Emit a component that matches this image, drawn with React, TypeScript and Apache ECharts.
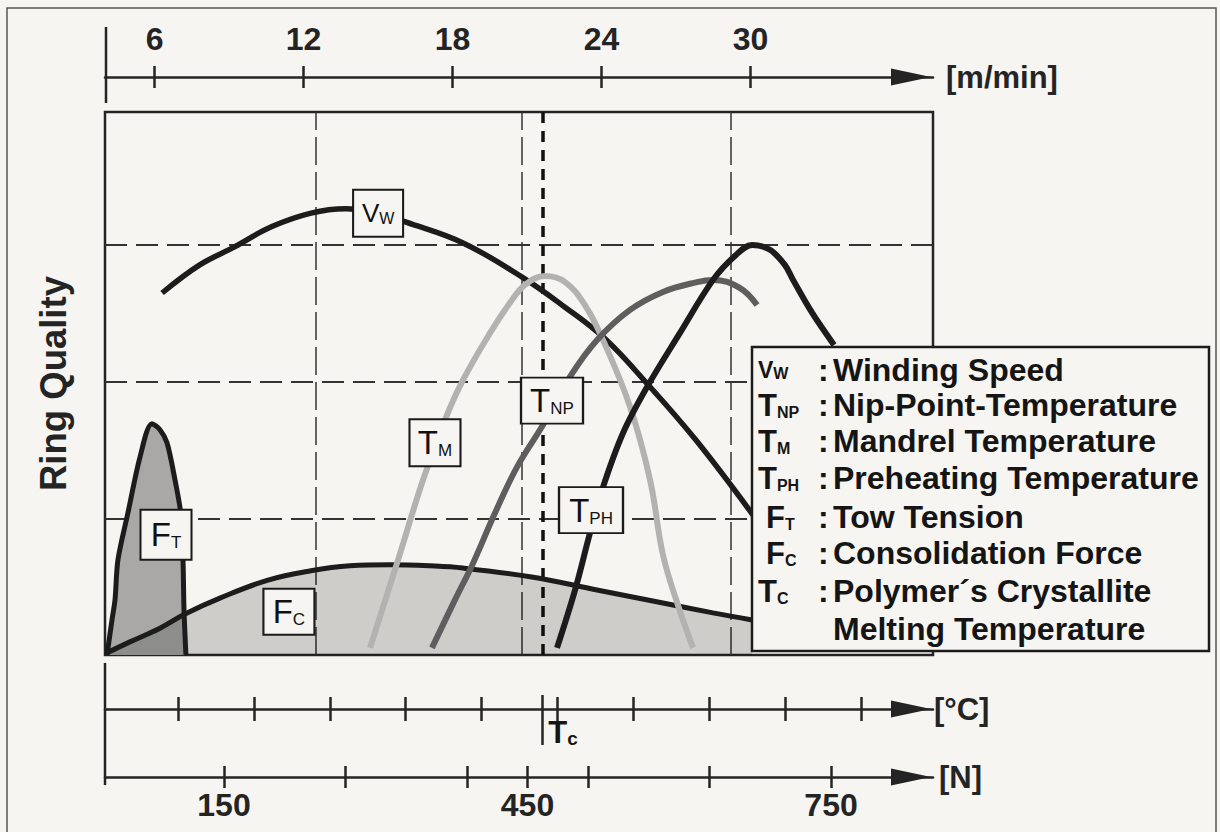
import React, { useEffect, useRef } from 'react';
import * as echarts from 'echarts';

// ---------- data ----------
const SPEED_TICKS = [6, 12, 18, 24, 30];
const TEMP_TICKS = [100, 150, 200, 250, 300, 350, 400, 450, 500, 550];
const FORCE_TICKS = [150, 270, 390, 450, 510, 630, 750];
const FORCE_LABELS = [150, 450, 750];
const TC = 340;
const QUALITY_LEVELS = [25, 50, 75];
const SPEED_GUIDES = [12.5, 20.8, 29.2];

const vwSpeed = [6.3, 7.8, 9.2, 10.7, 12.3, 13.7, 14.9, 16.1, 18.4, 20.8, 22.5, 24.1, 25.8, 27.8, 30.1];
const vwQuality = [66.2, 71.3, 74.6, 78.3, 80.8, 81.6, 81.0, 79.2, 75.4, 69.1, 63.7, 58.0, 49.8, 39.3, 25.6];

const tmTemp = [226.5, 244.3, 261.4, 275.9, 287.8, 305.6, 318.7, 328.6, 341.8, 355.0, 368.1, 380.0, 397.8, 411.0, 419.5, 429.4, 439.3];
const tmQuality = [1.3, 16.8, 32.0, 43.0, 50.3, 58.9, 64.4, 67.7, 69.3, 68.2, 64.0, 57.6, 45.4, 32.0, 18.3, 9.1, 1.3];

const tnpTemp = [267.3, 282.5, 294.4, 308.9, 323.4, 340.5, 358.3, 376.1, 397.8, 419.5, 441.9, 452.5, 470.3, 481.5];
const tnpQuality = [1.3, 10.1, 16.8, 26.0, 34.4, 42.1, 50.9, 57.6, 63.1, 66.4, 68.2, 68.6, 67.1, 64.0];

const tphTemp = [349.7, 361.6, 371.4, 380.0, 393.2, 409.0, 430.7, 452.5, 467.0, 478.2, 490.0, 499.9, 505.2, 517.7, 532.2];
const tphQuality = [1.3, 11.9, 22.3, 30.7, 40.6, 49.0, 58.9, 68.6, 73.0, 75.0, 74.1, 71.3, 68.6, 62.6, 56.7];

const ftForce = [34.4, 39.3, 42.3, 45.2, 55.1, 67.0, 78.8, 86.7, 93.7, 101.6, 107.5, 109.5, 110.5, 112.4];
const ftQuality = [0, 6.4, 10.1, 17.4, 26.0, 36.2, 42.3, 41.2, 38.8, 32.0, 25.6, 17.4, 8.2, 0];

const fcForce = [34.4, 57.1, 86.7, 111.5, 146.0, 193.5, 236.0, 274.5, 314.1, 353.6, 386.2, 452.5, 518.7, 583.9, 633.3, 672.0];
const fcQuality = [0.4, 2.4, 4.9, 7.5, 10.4, 13.7, 15.4, 16.3, 16.5, 16.3, 15.9, 14.3, 11.9, 9.5, 7.7, 6.4];

const LEGEND_MAIN = ['V', 'T', 'T', 'T', 'F', 'F', 'T', ''];
const LEGEND_SUB = ['W', 'NP', 'M', 'PH', 'T', 'C', 'C', ''];
const LEGEND_TEXT = [
  'Winding Speed',
  'Nip-Point-Temperature',
  'Mandrel Temperature',
  'Preheating Temperature',
  'Tow Tension',
  'Consolidation Force',
  'Polymer´s Crystallite',
  'Melting Temperature',
];

// ---------- style ----------
const FONT = 'Liberation Sans, Arial, Helvetica, sans-serif';
const INK = '#242424';
const BG = '#f7f5f1';

const zip = (a: number[], b: number[]) => a.map((v, i) => [v, b[i]]);

const baseAxis = (o: any) => ({
  type: 'value',
  gridIndex: 0,
  splitLine: { show: false },
  axisLine: { show: false, onZero: false },
  axisTick: { show: false },
  axisLabel: { show: false },
  ...o,
});

const SPEED_RANGE = { min: 4, max: 37.35 };
const TEMP_RANGE = { min: 51.9, max: 597.4 };
const FORCE_RANGE = { min: 32.4, max: 850.8 };

const arrowLine = {
  show: true,
  onZero: false,
  lineStyle: { color: INK, width: 2.5 },
  symbol: ['none', 'triangle'],
  symbolSize: [17, 40],
  symbolOffset: [0, -22],
};

const tickStyle = { color: INK, width: 2.5 };
const nameStyle = (pb: number) => ({
  fontSize: 31,
  fontWeight: 'bold',
  color: INK,
  fontFamily: FONT,
  padding: [0, 0, pb, 0],
});

const labelRich = (mainSize: number, subSize: number) => ({
  m: { fontSize: mainSize, fontFamily: FONT, color: '#111', verticalAlign: 'bottom', lineHeight: mainSize },
  s: {
    fontSize: subSize,
    fontFamily: FONT,
    color: '#111',
    verticalAlign: 'bottom',
    lineHeight: 2 * (0.3465 * subSize + 0.1535 * mainSize),
  },
});

const boxPoint = (coord: number[], size: number[], text: string, mainSize = 33, subSize = 17) => ({
  z: 8,
  symbol: 'rect',
  symbolSize: size,
  itemStyle: { color: BG, borderColor: '#1a1a1a', borderWidth: 2 },
  label: {
    show: true,
    position: 'inside',
    formatter: () => text,
    rich: labelRich(mainSize, subSize),
  },
  data: [{ coord }],
});

const LEG_Y = [370, 405, 441, 478, 517, 553, 591, 629];

const legendRich = (main: string) => {
  const ms = main === 'V' ? 23 : 31;
  const ss = 16;
  return {
    m: { fontSize: ms, fontWeight: 'bold', fontFamily: FONT, fill: '#151515', verticalAlign: 'bottom', lineHeight: ms },
    s: {
      fontSize: ss,
      fontWeight: 'bold',
      fontFamily: FONT,
      fill: '#151515',
      verticalAlign: 'bottom',
      lineHeight: 2 * (0.3465 * ss + 0.1535 * ms),
    },
  };
};

const legendGraphic = () => {
  const els: any[] = [
    {
      type: 'rect',
      shape: { x: 752, y: 347, width: 457, height: 304 },
      style: { fill: BG, stroke: '#1c1c1c', lineWidth: 2.5 },
      z: 20,
      silent: true,
    },
  ];
  LEGEND_TEXT.forEach((t, i) => {
    const y = LEG_Y[i];
    if (LEGEND_MAIN[i]) {
      const fx = LEGEND_MAIN[i] === 'F' ? 766 : 758;
      els.push({
        type: 'text',
        x: fx,
        y,
        z: 21,
        silent: true,
        style: {
          text: `{m|${LEGEND_MAIN[i]}}{s|${LEGEND_SUB[i]}}`,
          rich: legendRich(LEGEND_MAIN[i]),
          align: 'left',
          verticalAlign: 'middle',
        },
      });
      els.push({
        type: 'text',
        x: 818,
        y,
        z: 21,
        silent: true,
        style: {
          text: ':',
          fontSize: 32,
          fontWeight: 'bold',
          fontFamily: FONT,
          fill: '#151515',
          align: 'left',
          verticalAlign: 'middle',
        },
      });
    }
    els.push({
      type: 'text',
      x: 833,
      y,
      z: 21,
      silent: true,
      style: {
        text: t,
        fontSize: 32,
        fontWeight: 'bold',
        fontFamily: FONT,
        fill: '#151515',
        align: 'left',
        verticalAlign: 'middle',
      },
    });
  });
  return els;
};

const option: any = {
  animation: false,
  backgroundColor: 'transparent',
  grid: [
    {
      left: 105,
      top: 112,
      width: 828,
      height: 543,
      show: true,
      borderColor: INK,
      borderWidth: 2.5,
      backgroundColor: 'transparent',
      containLabel: false,
      outerBoundsMode: 'none',
    },
  ],
  xAxis: [
    // 0 winding speed (top)
    baseAxis({
      ...SPEED_RANGE,
      position: 'top',
      offset: 35,
      axisLine: arrowLine,
      axisTick: { show: true, length: 11, customValues: SPEED_TICKS, lineStyle: tickStyle },
      axisLabel: {
        show: true,
        customValues: SPEED_TICKS,
        margin: 22,
        fontSize: 32,
        fontWeight: 'bold',
        color: INK,
        fontFamily: FONT,
      },
      name: '[m/min]',
      nameLocation: 'end',
      nameGap: 13,
      nameTextStyle: nameStyle(26),
    }),
    // 1 winding speed inner ticks
    baseAxis({
      ...SPEED_RANGE,
      position: 'top',
      offset: 35,
      axisTick: { show: true, inside: true, length: 11, customValues: SPEED_TICKS, lineStyle: tickStyle },
    }),
    // 2 temperature
    baseAxis({
      ...TEMP_RANGE,
      position: 'bottom',
      offset: 54,
      axisLine: arrowLine,
      axisTick: { show: true, length: 12, customValues: TEMP_TICKS, lineStyle: tickStyle },
      name: '[°C]',
      nameLocation: 'end',
      nameGap: 1,
      nameTextStyle: nameStyle(24),
    }),
    // 3 temperature inner ticks
    baseAxis({
      ...TEMP_RANGE,
      position: 'bottom',
      offset: 54,
      axisTick: { show: true, inside: true, length: 12, customValues: TEMP_TICKS, lineStyle: tickStyle },
    }),
    // 4 crystallite melting temperature marker
    baseAxis({
      ...TEMP_RANGE,
      position: 'bottom',
      offset: 54,
      axisTick: { show: true, length: 36, customValues: [TC], lineStyle: tickStyle },
      axisLabel: {
        show: true,
        customValues: [TC],
        formatter: () => '{m|T}{s|c}',
        align: 'left',
        margin: 8,
        padding: [0, 0, 0, 6],
        rich: {
          m: { fontSize: 31, fontWeight: 'bold', fontFamily: FONT, color: '#151515', verticalAlign: 'bottom', lineHeight: 31 },
          s: {
            fontSize: 19,
            fontWeight: 'bold',
            fontFamily: FONT,
            color: '#151515',
            verticalAlign: 'bottom',
            lineHeight: 2 * (0.3465 * 19 + 0.1535 * 31),
          },
        },
      },
    }),
    // 5 marker inner tick
    baseAxis({
      ...TEMP_RANGE,
      position: 'bottom',
      offset: 54,
      axisTick: { show: true, inside: true, length: 14, customValues: [TC], lineStyle: tickStyle },
    }),
    // 6 force
    baseAxis({
      ...FORCE_RANGE,
      position: 'bottom',
      offset: 122,
      axisLine: arrowLine,
      axisTick: { show: true, length: 11, customValues: FORCE_TICKS, lineStyle: tickStyle },
      axisLabel: {
        show: true,
        customValues: FORCE_LABELS,
        margin: 12,
        fontSize: 32,
        fontWeight: 'bold',
        color: INK,
        fontFamily: FONT,
      },
      name: '[N]',
      nameLocation: 'end',
      nameGap: 6,
      nameTextStyle: nameStyle(0),
    }),
    // 7 force inner ticks
    baseAxis({
      ...FORCE_RANGE,
      position: 'bottom',
      offset: 122,
      axisTick: { show: true, inside: true, length: 11, customValues: FORCE_TICKS, lineStyle: tickStyle },
    }),
  ],
  yAxis: [
    {
      type: 'value',
      gridIndex: 0,
      min: 0,
      max: 99.3,
      axisLine: { show: false },
      axisTick: { show: false },
      axisLabel: { show: false },
      splitLine: { show: false },
      name: 'Ring Quality',
      nameLocation: 'middle',
      nameGap: 33,
      nameRotate: 90,
      nameTextStyle: { fontSize: 36.5, fontWeight: 'bold', color: INK, fontFamily: FONT },
    },
  ],
  series: [
    {
      name: 'Tow Tension',
      type: 'line',
      xAxisIndex: 6,
      yAxisIndex: 0,
      data: zip(ftForce, ftQuality),
      smooth: 0.3,
      showSymbol: false,
      symbol: 'none',
      lineStyle: { color: '#1c1c1c', width: 5 },
      areaStyle: { color: '#a9a8a6', opacity: 1 },
      markPoint: boxPoint([92.7, 22.0], [51, 50], '{m|F}{s|T}'),
    },
    {
      name: 'Consolidation Force',
      type: 'line',
      xAxisIndex: 6,
      yAxisIndex: 0,
      data: zip(fcForce, fcQuality),
      smooth: 0.4,
      showSymbol: false,
      symbol: 'none',
      lineStyle: { color: '#1c1c1c', width: 5 },
      areaStyle: { color: 'rgba(0,0,0,0.16)', opacity: 1 },
      markPoint: boxPoint([214.2, 7.9], [51, 46], '{m|F}{s|C}'),
    },
    {
      name: 'Winding Speed',
      type: 'line',
      xAxisIndex: 0,
      yAxisIndex: 0,
      data: zip(vwSpeed, vwQuality),
      smooth: 0.4,
      showSymbol: false,
      symbol: 'none',
      lineStyle: { color: '#1c1c1c', width: 5.5 },
      markLine: {
        z: 1,
        silent: true,
        symbol: ['none', 'none'],
        label: { show: false },
        data: [
          ...QUALITY_LEVELS.map((q) => ({
            yAxis: q,
            lineStyle: { color: '#333', width: 2, type: [22, 9] },
          })),
          ...SPEED_GUIDES.map((s) => ({
            xAxis: s,
            lineStyle: { color: '#333', width: 1.5, type: [28, 7] },
          })),
        ],
      },
      markPoint: boxPoint([15.0, 80.8], [50, 47], '{m|V}{s|W}', 26, 16),
    },
    {
      name: 'Mandrel Temperature',
      type: 'line',
      xAxisIndex: 2,
      yAxisIndex: 0,
      data: zip(tmTemp, tmQuality),
      smooth: 0.4,
      showSymbol: false,
      symbol: 'none',
      lineStyle: { color: '#b3b2b0', width: 6 },
      markPoint: boxPoint([269.3, 38.8], [51, 47], '{m|T}{s|M}'),
    },
    {
      name: 'Nip-Point-Temperature',
      type: 'line',
      xAxisIndex: 2,
      yAxisIndex: 0,
      data: zip(tnpTemp, tnpQuality),
      smooth: 0.4,
      showSymbol: false,
      symbol: 'none',
      lineStyle: { color: '#5e5e5e', width: 6 },
      markLine: {
        z: 1,
        silent: true,
        symbol: ['none', 'none'],
        label: { show: false },
        data: [{ xAxis: TC, lineStyle: { color: '#111', width: 3.5, type: [11, 8] } }],
      },
      markPoint: boxPoint([346.4, 46.5], [62, 46], '{m|T}{s|NP}'),
    },
    {
      name: 'Preheating Temperature',
      type: 'line',
      xAxisIndex: 2,
      yAxisIndex: 0,
      data: zip(tphTemp, tphQuality),
      smooth: 0.35,
      showSymbol: false,
      symbol: 'none',
      lineStyle: { color: '#1c1c1c', width: 6 },
      markPoint: boxPoint([372.1, 26.5], [64, 46], '{m|T}{s|PH}'),
    },
  ],
  graphic: [
    {
      type: 'rect',
      shape: { x: 7, y: 8, width: 1209, height: 840 },
      style: { fill: 'none', stroke: '#555', lineWidth: 1.5 },
      z: -1,
      silent: true,
    },
    {
      type: 'line',
      shape: { x1: 106, y1: 27, x2: 106, y2: 103 },
      style: { stroke: INK, lineWidth: 2.5 },
      z: 5,
      silent: true,
    },
    {
      type: 'line',
      shape: { x1: 105, y1: 663, x2: 105, y2: 785 },
      style: { stroke: INK, lineWidth: 2.5 },
      z: 5,
      silent: true,
    },
    ...legendGraphic(),
  ],
};

export default function App() {
  const ref = useRef<HTMLDivElement>(null);
  useEffect(() => {
    if (!ref.current) return;
    const chart = echarts.init(ref.current, null, { renderer: 'svg' });
    chart.setOption(option);
    return () => {
      chart.dispose();
    };
  }, []);
  return (
    <div style={{ position: 'fixed', left: 0, top: 0, width: 1220, height: 832, background: BG }}>
      <div ref={ref} style={{ width: 1220, height: 832 }} />
    </div>
  );
}
